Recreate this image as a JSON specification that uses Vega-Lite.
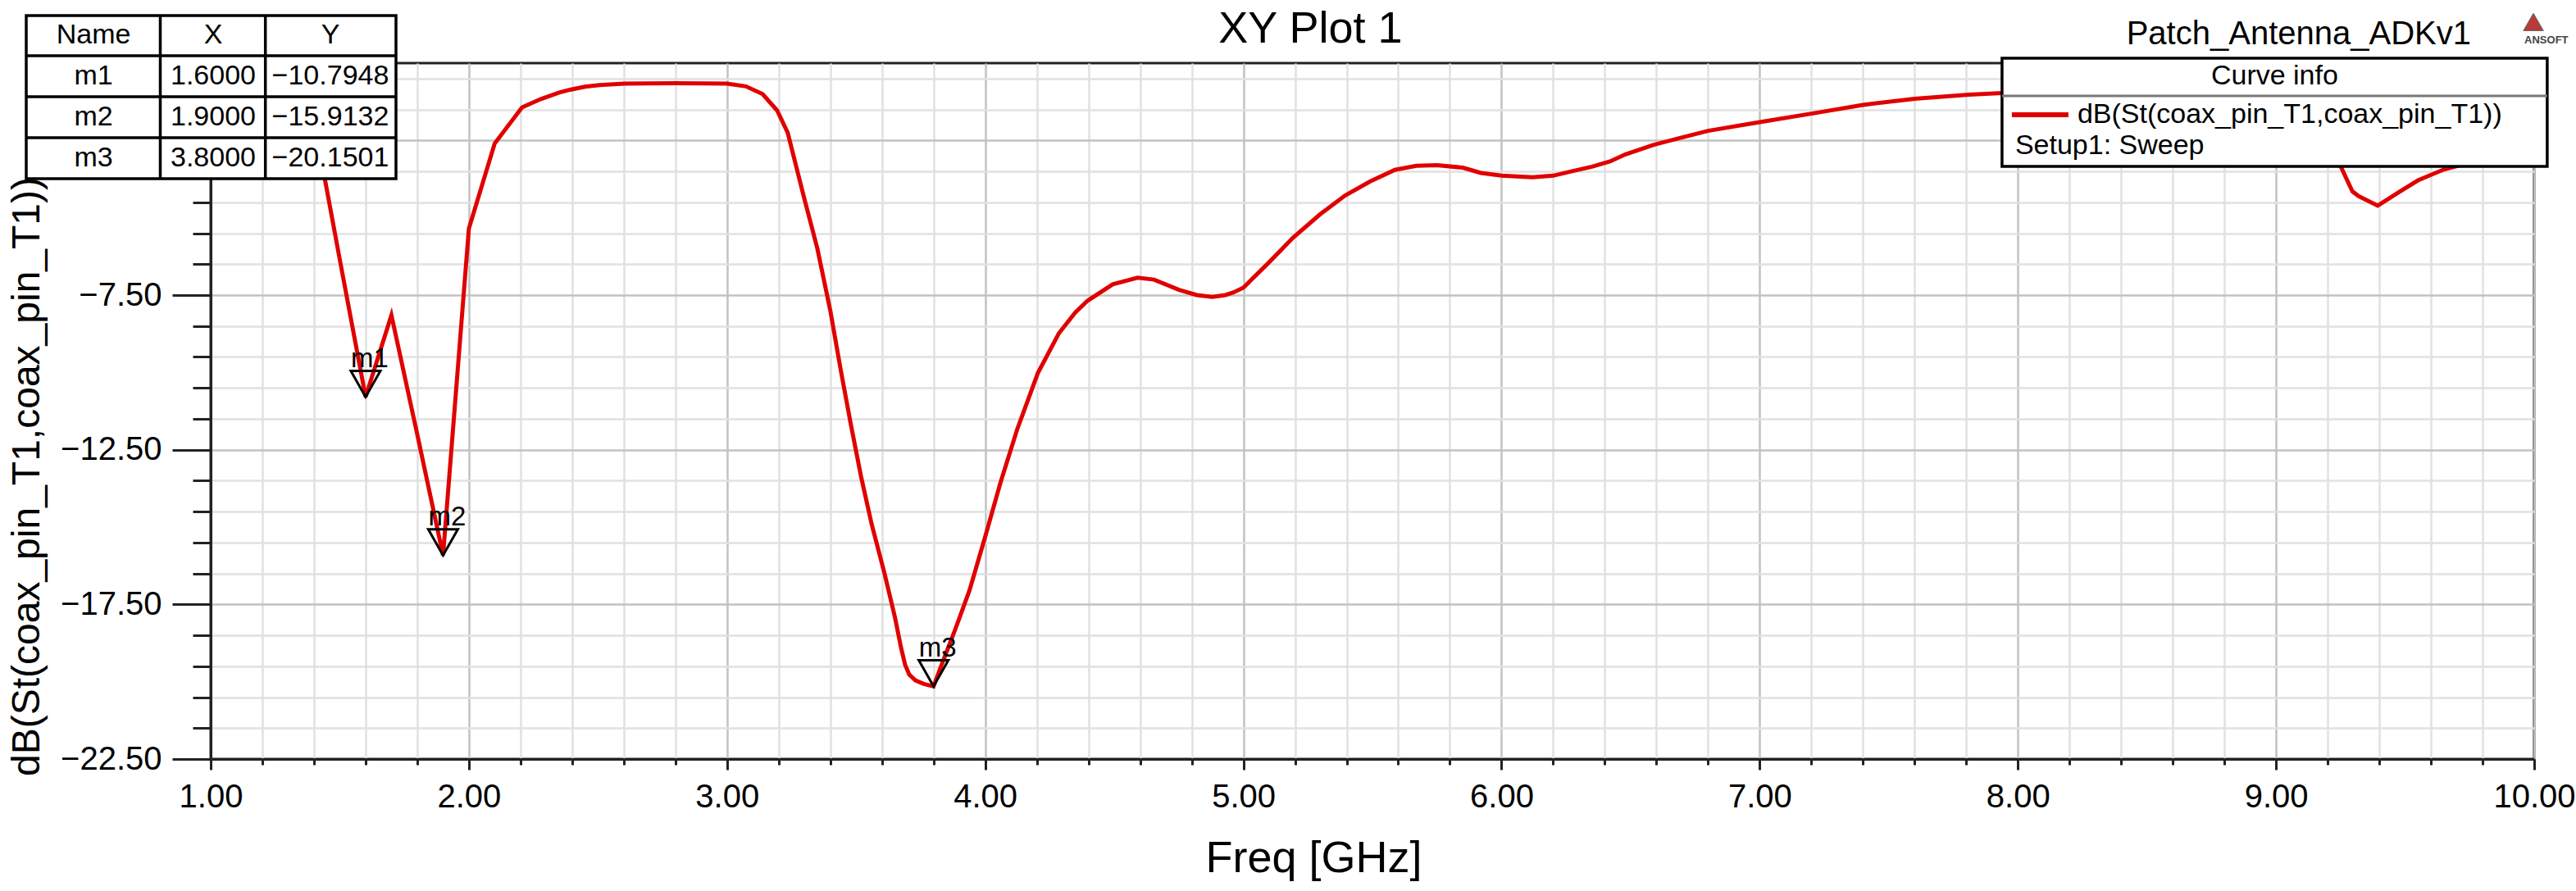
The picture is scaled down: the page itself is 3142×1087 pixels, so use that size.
{
  "$schema": "https://vega.github.io/schema/vega-lite/v6.json",
  "width": 2834,
  "height": 849,
  "autosize": {"type": "none"},
  "padding": {"left": 257, "top": 77, "right": 51, "bottom": 161},
  "background": "white",
  "config": {
    "font": "Liberation Sans",
    "view": {"stroke": "#222222", "strokeWidth": 3},
    "text": {"color": "black"}
  },
  "resolve": {"axis": {"x": "independent", "y": "independent"}},
  "datasets": {
    "s11": [
      {"freq": 1.0, "db": -0.8}, {"freq": 1.1, "db": -0.9}, {"freq": 1.2, "db": -1.05}, {"freq": 1.3, "db": -1.3},
      {"freq": 1.4, "db": -1.85}, {"freq": 1.5, "db": -6.35}, {"freq": 1.6, "db": -10.7948}, {"freq": 1.7, "db": -8.15},
      {"freq": 1.8, "db": -12.0}, {"freq": 1.9, "db": -15.9132}, {"freq": 2.0, "db": -5.35}, {"freq": 2.1, "db": -2.6},
      {"freq": 2.206, "db": -1.43}, {"freq": 2.279, "db": -1.16}, {"freq": 2.35, "db": -0.95}, {"freq": 2.392, "db": -0.86},
      {"freq": 2.45, "db": -0.76}, {"freq": 2.506, "db": -0.71}, {"freq": 2.603, "db": -0.66}, {"freq": 2.8, "db": -0.65},
      {"freq": 3.0, "db": -0.66}, {"freq": 3.073, "db": -0.75}, {"freq": 3.138, "db": -1.0}, {"freq": 3.194, "db": -1.53},
      {"freq": 3.235, "db": -2.25}, {"freq": 3.3, "db": -4.4}, {"freq": 3.35, "db": -6.0}, {"freq": 3.4, "db": -8.0},
      {"freq": 3.44, "db": -9.9}, {"freq": 3.48, "db": -11.7}, {"freq": 3.52, "db": -13.4}, {"freq": 3.56, "db": -14.9},
      {"freq": 3.61, "db": -16.5}, {"freq": 3.65, "db": -17.9}, {"freq": 3.674, "db": -18.9}, {"freq": 3.69, "db": -19.46},
      {"freq": 3.706, "db": -19.77}, {"freq": 3.73, "db": -19.96}, {"freq": 3.762, "db": -20.07}, {"freq": 3.8, "db": -20.1501},
      {"freq": 3.834, "db": -19.39}, {"freq": 3.883, "db": -18.33}, {"freq": 3.939, "db": -17.05}, {"freq": 4.0, "db": -15.31},
      {"freq": 4.059, "db": -13.57}, {"freq": 4.124, "db": -11.84}, {"freq": 4.204, "db": -10.02}, {"freq": 4.285, "db": -8.74},
      {"freq": 4.349, "db": -8.06}, {"freq": 4.397, "db": -7.68}, {"freq": 4.494, "db": -7.15}, {"freq": 4.59, "db": -6.94},
      {"freq": 4.654, "db": -7.0}, {"freq": 4.751, "db": -7.33}, {"freq": 4.82, "db": -7.5}, {"freq": 4.879, "db": -7.56},
      {"freq": 4.93, "db": -7.5}, {"freq": 4.96, "db": -7.42}, {"freq": 5.0, "db": -7.26}, {"freq": 5.096, "db": -6.47},
      {"freq": 5.193, "db": -5.64}, {"freq": 5.297, "db": -4.89}, {"freq": 5.394, "db": -4.28}, {"freq": 5.49, "db": -3.83},
      {"freq": 5.587, "db": -3.45}, {"freq": 5.67, "db": -3.32}, {"freq": 5.75, "db": -3.3}, {"freq": 5.85, "db": -3.38},
      {"freq": 5.92, "db": -3.55}, {"freq": 6.0, "db": -3.64}, {"freq": 6.12, "db": -3.69}, {"freq": 6.2, "db": -3.64},
      {"freq": 6.28, "db": -3.48}, {"freq": 6.35, "db": -3.35}, {"freq": 6.42, "db": -3.18}, {"freq": 6.48, "db": -2.95},
      {"freq": 6.59, "db": -2.64}, {"freq": 6.7, "db": -2.4}, {"freq": 6.8, "db": -2.19}, {"freq": 7.0, "db": -1.91},
      {"freq": 7.21, "db": -1.62}, {"freq": 7.4, "db": -1.35}, {"freq": 7.6, "db": -1.15}, {"freq": 7.81, "db": -1.02},
      {"freq": 7.94, "db": -0.97}, {"freq": 8.1, "db": -0.93}, {"freq": 8.4, "db": -0.95}, {"freq": 8.7, "db": -1.1},
      {"freq": 8.9, "db": -1.4}, {"freq": 9.05, "db": -1.9}, {"freq": 9.15, "db": -2.5}, {"freq": 9.246, "db": -3.26},
      {"freq": 9.296, "db": -4.15}, {"freq": 9.32, "db": -4.3}, {"freq": 9.394, "db": -4.61}, {"freq": 9.48, "db": -4.15},
      {"freq": 9.55, "db": -3.79}, {"freq": 9.65, "db": -3.44}, {"freq": 9.74, "db": -3.24}, {"freq": 9.85, "db": -3.1},
      {"freq": 10.0, "db": -3.0}
    ],
    "markers": [
      {"name": "m1", "freq": 1.6, "db": -10.7948},
      {"name": "m2", "freq": 1.9, "db": -15.9132},
      {"name": "m3", "freq": 3.8, "db": -20.1501}
    ],
    "curveinfo": [
      {"curve": "dB(St(coax_pin_T1,coax_pin_T1))", "setup": "Setup1: Sweep"}
    ],
    "blank": [{}]
  },
  "layer": [
    {
      "data": {"name": "blank"},
      "mark": {"type": "point", "opacity": 0, "size": 1},
      "encoding": {
        "x": {
          "datum": 1, "type": "quantitative",
          "axis": {
            "orient": "bottom", "title": null, "labels": false, "domain": false,
            "values": [1.2, 1.4, 1.6, 1.8, 2.2, 2.4, 2.6, 2.8, 3.2, 3.4, 3.6, 3.8, 4.2, 4.4, 4.6, 4.8, 5.2, 5.4, 5.6, 5.8, 6.2, 6.4, 6.6, 6.8, 7.2, 7.4, 7.6, 7.8, 8.2, 8.4, 8.6, 8.8, 9.2, 9.4, 9.6, 9.8],
            "tickSize": 7, "tickColor": "#222222", "tickWidth": 3,
            "grid": true, "gridColor": "#e1e1e1", "gridWidth": 2.5
          }
        },
        "y": {
          "datum": -22.5, "type": "quantitative",
          "axis": {
            "orient": "left", "title": null, "labels": false, "domain": false,
            "values": [-21.5, -20.5, -19.5, -18.5, -16.5, -15.5, -14.5, -13.5, -11.5, -10.5, -9.5, -8.5, -6.5, -5.5, -4.5, -3.5, -1.5, -0.5],
            "tickSize": 22, "tickColor": "#222222", "tickWidth": 3,
            "grid": true, "gridColor": "#e1e1e1", "gridWidth": 2.5
          }
        }
      }
    },
    {
      "data": {"name": "s11"},
      "mark": {"type": "line", "color": "#e00000", "strokeWidth": 5, "interpolate": "linear"},
      "encoding": {
        "x": {
          "field": "freq", "type": "quantitative",
          "scale": {"domain": [1, 10], "nice": false, "zero": false},
          "axis": {
            "orient": "bottom",
            "title": "Freq [GHz]", "titleFontSize": 54, "titleFontWeight": "normal", "titleColor": "black",
            "titleX": 1345, "titleY": 121, "titleBaseline": "middle", "titleAlign": "center",
            "values": [1, 2, 3, 4, 5, 6, 7, 8, 9, 10],
            "format": ".2f",
            "labelFontSize": 40, "labelColor": "black", "labelBaseline": "middle", "labelPadding": 33,
            "labelFlush": false, "labelOverlap": false, "labelBound": false,
            "tickSize": 13, "tickColor": "#222222", "tickWidth": 3,
            "domainColor": "#222222", "domainWidth": 3,
            "grid": true, "gridColor": "#c2c2c2", "gridWidth": 2.5
          }
        },
        "y": {
          "field": "db", "type": "quantitative",
          "scale": {"domain": [-22.5, 0], "nice": false, "zero": false},
          "axis": {
            "orient": "left",
            "title": "dB(St(coax_pin_T1,coax_pin_T1))", "titleFontSize": 48, "titleFontWeight": "normal", "titleColor": "black",
            "titleX": -224, "titleY": 504, "titleAngle": 270, "titleBaseline": "middle", "titleAlign": "center",
            "values": [-22.5, -17.5, -12.5, -7.5, -2.5],
            "format": ".2f",
            "labelFontSize": 40, "labelColor": "black", "labelPadding": 13,
            "labelFlush": false, "labelOverlap": false, "labelBound": false,
            "tickSize": 47, "tickColor": "#222222", "tickWidth": 3,
            "domainColor": "#222222", "domainWidth": 3,
            "grid": true, "gridColor": "#c2c2c2", "gridWidth": 2.5
          }
        }
      }
    },
    {
      "data": {"name": "markers"},
      "mark": {"type": "point", "shape": "M-1,-1.76L1,-1.76L0,0Z", "filled": false, "stroke": "black", "strokeWidth": 3, "size": 1300, "opacity": 1},
      "encoding": {
        "x": {"field": "freq", "type": "quantitative", "axis": null},
        "y": {"field": "db", "type": "quantitative", "axis": null}
      }
    },
    {
      "data": {"name": "markers"},
      "mark": {"type": "text", "fontSize": 33, "align": "left", "baseline": "alphabetic", "dx": -18, "dy": -36, "color": "black"},
      "encoding": {
        "x": {"field": "freq", "type": "quantitative", "axis": null},
        "y": {"field": "db", "type": "quantitative", "axis": null},
        "text": {"field": "name"}
      }
    },
    {
      "data": {"name": "blank"},
      "mark": {"type": "rect", "fill": "white", "stroke": "black", "strokeWidth": 3.5},
      "encoding": {
        "x": {"datum": 0.2855, "axis": null}, "x2": {"datum": 1.7177},
        "y": {"datum": 1.5392, "axis": null}, "y2": {"datum": -3.7351}
      }
    },
    {
      "data": {"name": "blank"},
      "mark": {"type": "rule", "stroke": "black", "strokeWidth": 3.5},
      "encoding": {"x": {"datum": 0.2855, "axis": null}, "x2": {"datum": 1.7177}, "y": {"datum": 0.2405, "axis": null}}
    },
    {
      "data": {"name": "blank"},
      "mark": {"type": "rule", "stroke": "black", "strokeWidth": 3.5},
      "encoding": {"x": {"datum": 0.2855, "axis": null}, "x2": {"datum": 1.7177}, "y": {"datum": -1.0847, "axis": null}}
    },
    {
      "data": {"name": "blank"},
      "mark": {"type": "rule", "stroke": "black", "strokeWidth": 3.5},
      "encoding": {"x": {"datum": 0.2855, "axis": null}, "x2": {"datum": 1.7177}, "y": {"datum": -2.4099, "axis": null}}
    },
    {
      "data": {"name": "blank"},
      "mark": {"type": "rule", "stroke": "black", "strokeWidth": 3.5},
      "encoding": {"x": {"datum": 0.8047, "axis": null}, "y": {"datum": 1.5392, "axis": null}, "y2": {"datum": -3.7351}}
    },
    {
      "data": {"name": "blank"},
      "mark": {"type": "rule", "stroke": "black", "strokeWidth": 3.5},
      "encoding": {"x": {"datum": 1.2118, "axis": null}, "y": {"datum": 1.5392, "axis": null}, "y2": {"datum": -3.7351}}
    },
    {
      "data": {"name": "blank"},
      "encoding": {"y": {"datum": 0.8899, "axis": null}},
      "layer": [
        {"mark": {"type": "text", "fontSize": 34, "align": "center", "baseline": "middle", "text": "Name"}, "encoding": {"x": {"datum": 0.5459, "axis": null}}},
        {"mark": {"type": "text", "fontSize": 34, "align": "center", "baseline": "middle", "text": "X"}, "encoding": {"x": {"datum": 1.0095, "axis": null}}},
        {"mark": {"type": "text", "fontSize": 34, "align": "center", "baseline": "middle", "text": "Y"}, "encoding": {"x": {"datum": 1.4636, "axis": null}}}
      ]
    },
    {
      "data": {"name": "markers"},
      "transform": [{"filter": "datum.name === 'm1'"}],
      "encoding": {"y": {"datum": -0.4221, "axis": null}},
      "layer": [
        {"mark": {"type": "text", "fontSize": 34, "align": "center", "baseline": "middle"}, "encoding": {"x": {"datum": 0.5459, "axis": null}, "text": {"field": "name"}}},
        {"mark": {"type": "text", "fontSize": 34, "align": "center", "baseline": "middle"}, "encoding": {"x": {"datum": 1.0095, "axis": null}, "text": {"field": "freq", "format": ".4f"}}},
        {"mark": {"type": "text", "fontSize": 34, "align": "center", "baseline": "middle"}, "encoding": {"x": {"datum": 1.4636, "axis": null}, "text": {"field": "db", "format": ".4f"}}}
      ]
    },
    {
      "data": {"name": "markers"},
      "transform": [{"filter": "datum.name === 'm2'"}],
      "encoding": {"y": {"datum": -1.7473, "axis": null}},
      "layer": [
        {"mark": {"type": "text", "fontSize": 34, "align": "center", "baseline": "middle"}, "encoding": {"x": {"datum": 0.5459, "axis": null}, "text": {"field": "name"}}},
        {"mark": {"type": "text", "fontSize": 34, "align": "center", "baseline": "middle"}, "encoding": {"x": {"datum": 1.0095, "axis": null}, "text": {"field": "freq", "format": ".4f"}}},
        {"mark": {"type": "text", "fontSize": 34, "align": "center", "baseline": "middle"}, "encoding": {"x": {"datum": 1.4636, "axis": null}, "text": {"field": "db", "format": ".4f"}}}
      ]
    },
    {
      "data": {"name": "markers"},
      "transform": [{"filter": "datum.name === 'm3'"}],
      "encoding": {"y": {"datum": -3.0725, "axis": null}},
      "layer": [
        {"mark": {"type": "text", "fontSize": 34, "align": "center", "baseline": "middle"}, "encoding": {"x": {"datum": 0.5459, "axis": null}, "text": {"field": "name"}}},
        {"mark": {"type": "text", "fontSize": 34, "align": "center", "baseline": "middle"}, "encoding": {"x": {"datum": 1.0095, "axis": null}, "text": {"field": "freq", "format": ".4f"}}},
        {"mark": {"type": "text", "fontSize": 34, "align": "center", "baseline": "middle"}, "encoding": {"x": {"datum": 1.4636, "axis": null}, "text": {"field": "db", "format": ".4f"}}}
      ]
    },
    {
      "data": {"name": "blank"},
      "mark": {"type": "rect", "fill": "white", "stroke": "black", "strokeWidth": 3.5},
      "encoding": {
        "x": {"datum": 7.9387, "axis": null}, "x2": {"datum": 10.0505},
        "y": {"datum": 0.161, "axis": null}, "y2": {"datum": -3.338}
      }
    },
    {
      "data": {"name": "blank"},
      "mark": {"type": "rule", "stroke": "#777777", "strokeWidth": 3},
      "encoding": {"x": {"datum": 7.9387, "axis": null}, "x2": {"datum": 10.0505}, "y": {"datum": -1.058, "axis": null}}
    },
    {
      "data": {"name": "blank"},
      "mark": {"type": "rule", "stroke": "#e00000", "strokeWidth": 6},
      "encoding": {"x": {"datum": 7.9768, "axis": null}, "x2": {"datum": 8.1959}, "y": {"datum": -1.668, "axis": null}}
    },
    {
      "data": {"name": "blank"},
      "mark": {"type": "text", "fontSize": 34, "align": "center", "baseline": "middle", "text": "Curve info"},
      "encoding": {"x": {"datum": 8.9946, "axis": null}, "y": {"datum": -0.422, "axis": null}}
    },
    {
      "data": {"name": "curveinfo"},
      "mark": {"type": "text", "fontSize": 34, "align": "left", "baseline": "middle"},
      "encoding": {"x": {"datum": 8.2308, "axis": null}, "y": {"datum": -1.668, "axis": null}, "text": {"field": "curve"}}
    },
    {
      "data": {"name": "curveinfo"},
      "mark": {"type": "text", "fontSize": 34, "align": "left", "baseline": "middle"},
      "encoding": {"x": {"datum": 7.9895, "axis": null}, "y": {"datum": -2.675, "axis": null}, "text": {"field": "setup"}}
    },
    {
      "data": {"name": "blank"},
      "mark": {"type": "text", "fontSize": 54, "align": "center", "baseline": "middle", "text": "XY Plot 1"},
      "encoding": {"x": {"datum": 5.26, "axis": null}, "y": {"datum": 1.09, "axis": null}}
    },
    {
      "data": {"name": "blank"},
      "mark": {"type": "text", "fontSize": 40, "align": "center", "baseline": "middle", "text": "Patch_Antenna_ADKv1"},
      "encoding": {"x": {"datum": 9.088, "axis": null}, "y": {"datum": 0.93, "axis": null}}
    },
    {
      "data": {"name": "blank"},
      "mark": {"type": "point", "shape": "triangle-up", "filled": true, "fill": "#b83a3a", "stroke": "#666666", "strokeWidth": 1, "size": 600, "opacity": 1},
      "encoding": {"x": {"datum": 9.997, "axis": null}, "y": {"datum": 1.33, "axis": null}}
    },
    {
      "data": {"name": "blank"},
      "mark": {"type": "text", "fontSize": 13, "fontWeight": "bold", "align": "center", "baseline": "middle", "color": "#444444", "text": "ANSOFT"},
      "encoding": {"x": {"datum": 10.047, "axis": null}, "y": {"datum": 0.744, "axis": null}}
    }
  ]
}
